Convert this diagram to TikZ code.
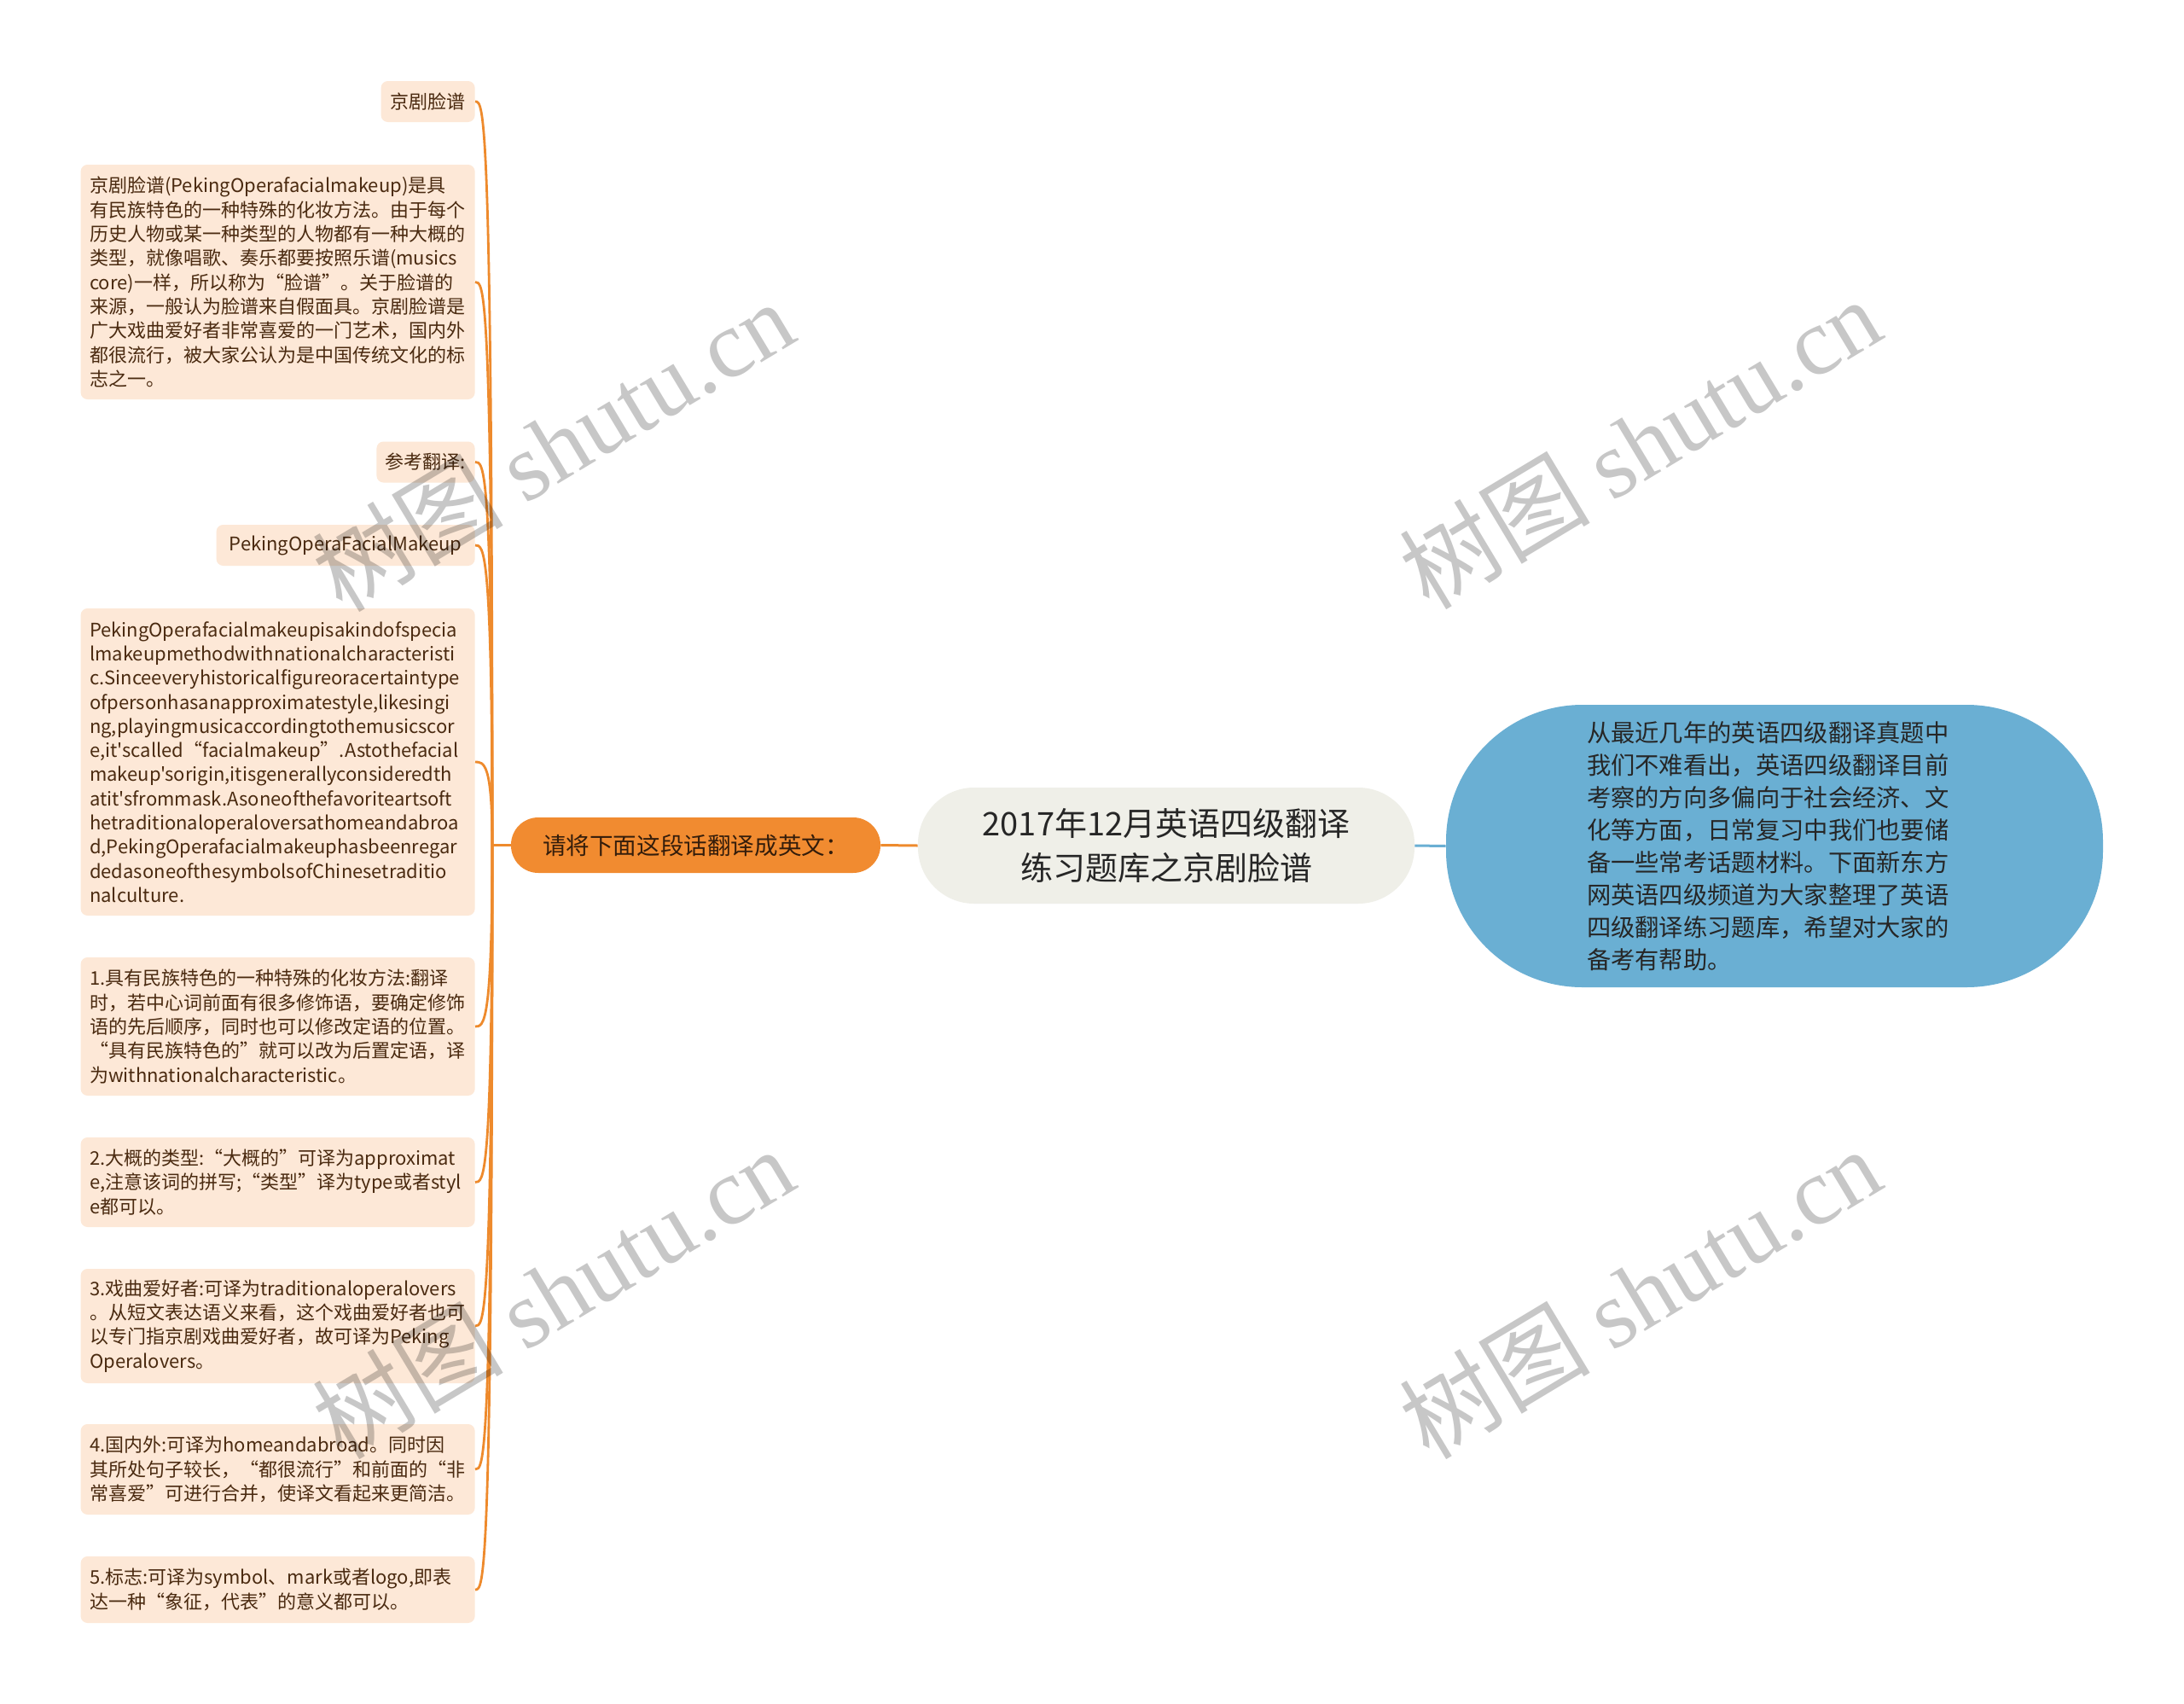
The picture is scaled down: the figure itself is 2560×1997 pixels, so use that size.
\documentclass[tikz,border=0pt]{standalone}
\usepackage{fontspec}
\setmainfont{Noto Sans CJK SC}[Ligatures=TeXOff]
\newfontfamily\wmlatin{Liberation Serif}
\usetikzlibrary{calc}
\definecolor{peach}{HTML}{FDE8D7}
\definecolor{brownT}{HTML}{4A2A10}
\definecolor{orangeN}{HTML}{F18B30}
\definecolor{orangeL}{HTML}{EE8A2C}
\definecolor{centerF}{HTML}{EFEFE8}
\definecolor{blueN}{HTML}{6AAFD3}
\definecolor{darkT}{HTML}{262626}
\begin{document}
\begin{tikzpicture}[x=0.5pt,y=-0.5pt,
  leaf/.style={fill=peach, rounded corners=4pt, text=brownT,
    font=\fontsize{11pt}{14.15pt}\selectfont, anchor=east,
    inner xsep=5.25pt, inner ysep=0pt},
  para/.style={leaf, text width=220.5pt, align=left},
  small/.style={leaf, minimum height=24pt, align=center},
  branch/.style={draw=orangeL, line width=1.4pt},
  wm/.style={rotate=31, text=black, opacity=0.22,
    font=\fontsize{56pt}{60pt}\selectfont}
]
\fill[white] (0,0) rectangle (2560,1997);
\useasboundingbox (0,0) rectangle (2560,1997);

% main nodes
\node[fill=centerF, rounded corners=33pt, minimum width=291pt, minimum height=68pt,
  align=center, text=darkT, font=\fontsize{19pt}{26pt}\selectfont, inner sep=0pt]
  (c) at (1367,991) {2017年12月英语四级翻译\\练习题库之京剧脸谱};
\node[fill=orangeN, rounded corners=16pt, minimum width=216.5pt, minimum height=32.5pt,
  text=brownT!70!black, font=\fontsize{13.8pt}{16pt}\selectfont, inner sep=0pt]
  (o) at (815.5,990.5) {请将下面这段话翻译成英文：};
\node[fill=blueN, rounded corners=80pt, minimum width=385pt, minimum height=165.5pt,
  text width=220pt, align=left, text=darkT, font=\fontsize{14.15pt}{19pt}\selectfont,
  inner sep=0pt]
  (bl) at (2080,991.5) {从最近几年的英语四级翻译真题中\\我们不难看出，英语四级翻译目前\\考察的方向多偏向于社会经济、文\\化等方面，日常复习中我们也要储\\备一些常考话题材料。下面新东方\\网英语四级频道为大家整理了英语\\四级翻译练习题库，希望对大家的\\备考有帮助。};

% leaves
\node[small, minimum width=55pt] (b1) at (557,119) {京剧脸谱};
\node[para, minimum height=137.5pt] (b2) at (557,330.5) {京剧脸谱(PekingOperafacialmakeup)是具\\有民族特色的一种特殊的化妆方法。由于每个\\历史人物或某一种类型的人物都有一种大概的\\类型，就像唱歌、奏乐都要按照乐谱(musics\\core)一样，所以称为“脸谱”。关于脸谱的\\来源，一般认为脸谱来自假面具。京剧脸谱是\\广大戏曲爱好者非常喜爱的一门艺术，国内外\\都很流行，被大家公认为是中国传统文化的标\\志之一。};
\node[small, minimum width=57.5pt] (b3) at (557,541.5) {参考翻译:};
\node[small, minimum width=151.5pt] (b4) at (557,639) {PekingOperaFacialMakeup};
\node[para, minimum height=180pt] (b5) at (557,893) {PekingOperafacialmakeupisakindofspecia\\lmakeupmethodwithnationalcharacteristi\\c.Sinceeveryhistoricalfigureoracertaintype\\ofpersonhasanapproximatestyle,likesingi\\ng,playingmusicaccordingtothemusicscor\\e,it'scalled“facialmakeup”.Astothefacial\\makeup'sorigin,itisgenerallyconsideredth\\atit'sfrommask.Asoneofthefavoriteartsoft\\hetraditionaloperaloversathomeandabroa\\d,PekingOperafacialmakeuphasbeenregar\\dedasoneofthesymbolsofChinesetraditio\\nalculture.};
\node[para, minimum height=81pt] (b6) at (557,1203) {1.具有民族特色的一种特殊的化妆方法:翻译\\时，若中心词前面有很多修饰语，要确定修饰\\语的先后顺序，同时也可以修改定语的位置。\\“具有民族特色的”就可以改为后置定语，译\\为withnationalcharacteristic。};
\node[para, minimum height=52.5pt] (b7) at (557,1385.5) {2.大概的类型:“大概的”可译为approximat\\e,注意该词的拼写;“类型”译为type或者styl\\e都可以。};
\node[para, minimum height=67pt] (b8) at (557,1554) {3.戏曲爱好者:可译为traditionaloperalovers\\。从短文表达语义来看，这个戏曲爱好者也可\\以专门指京剧戏曲爱好者，故可译为Peking\\Operalovers。};
\node[para, minimum height=53pt] (b9) at (557,1722) {4.国内外:可译为homeandabroad。同时因\\其所处句子较长，“都很流行”和前面的“非\\常喜爱”可进行合并，使译文看起来更简洁。};
\node[para, minimum height=39pt] (b10) at (557,1863) {5.标志:可译为symbol、mark或者logo,即表\\达一种“象征，代表”的意义都可以。};

% connectors
\coordinate (J) at (577,990.5);
\draw[draw=blueN, line width=1.5pt] (c.east) -- (bl.west);
\draw[branch, line width=1.5pt] (c.west) -- (o.west -| o.east);
\draw[branch, line width=1.5pt] (o.west) -- (J);
\foreach \b in {b1,b2,b3,b4,b5,b6,b7,b8,b9,b10}
  \draw[branch] (J) .. controls (J |- \b.east) and ([xshift=5pt]\b.east) .. (\b.east);

% watermarks
\node[wm] (w1) at (648,522) {树图 {\wmlatin shutu.cn}};
\node[wm] (w2) at (1922,519) {树图 {\wmlatin shutu.cn}};
\node[wm] (w3) at (648,1515) {树图 {\wmlatin shutu.cn}};
\node[wm] (w4) at (1922,1515) {树图 {\wmlatin shutu.cn}};
\end{tikzpicture}
\end{document}
